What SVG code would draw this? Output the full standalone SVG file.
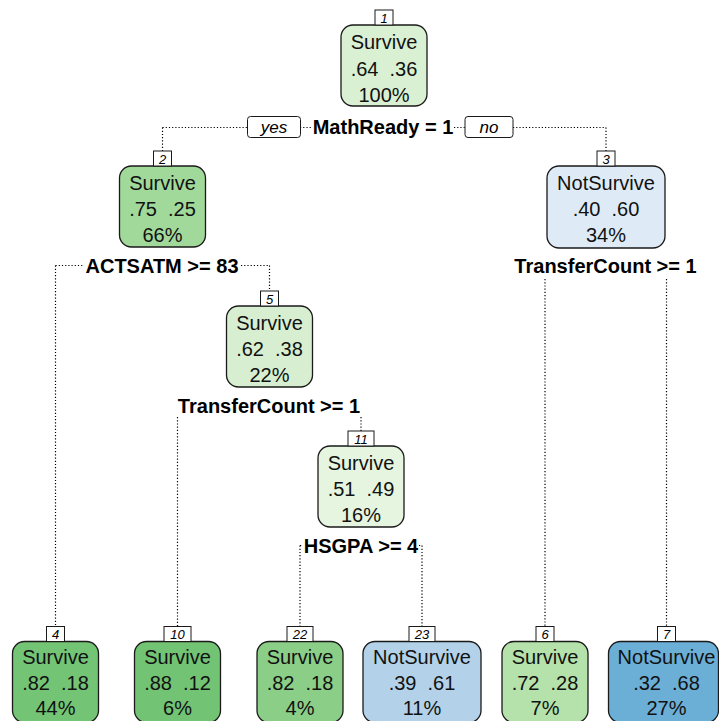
<svg xmlns="http://www.w3.org/2000/svg" width="719" height="721" viewBox="0 0 719 721">
  <style>
    .box { stroke: #1a1a1a; stroke-width: 1.3; }
    .num { fill: #ffffff; stroke: #1a1a1a; stroke-width: 1; }
    .numtxt { font-family: "Liberation Sans", Arial, sans-serif; font-size: 13px; font-style: italic; text-anchor: middle; fill: #000; }
    .txt { font-family: "Liberation Sans", Arial, sans-serif; font-size: 20px; text-anchor: middle; fill: #111; white-space: pre; }
    .split { font-family: "Liberation Sans", Arial, sans-serif; font-size: 20px; font-weight: bold; text-anchor: middle; fill: #000; }
    .yn { font-family: "Liberation Sans", Arial, sans-serif; font-size: 17px; font-style: italic; text-anchor: middle; fill: #000; }
    .dot { fill: none; stroke: #000; stroke-width: 1.2; stroke-dasharray: 1.2 2; }
  </style>
  <rect width="719" height="721" fill="#ffffff"/>

  <!-- dotted connectors -->
  <g id="connectors">
    <path class="dot" d="M162.5 127.5 H247 M300 127.5 H312 M454 127.5 H465 M513 127.5 H606 M162.5 127.5 V151 M606 127.5 V151"/>
    <path class="dot" d="M55.5 265.5 H83 M241 265.5 H269.5 M55.5 265.5 V626.5 M269.5 265.5 V291"/>
    <path class="dot" d="M177.5 417 V626.5 M361 417 V431"/>
    <path class="dot" d="M300 545.5 H302 M419 545.5 H422 M300 545.5 V626.5 M422 545.5 V626.5"/>
    <path class="dot" d="M545 279 V626.5 M666.5 279 V626.5"/>
  </g>

  <!-- yes / no tags -->
  <g id="yes">
    <rect class="num" x="247.5" y="116.5" width="53" height="21" rx="3"/>
    <text class="yn" x="274" y="132.5">yes</text>
  </g>
  <g id="no">
    <rect class="num" x="465" y="116.5" width="48" height="21" rx="3"/>
    <text class="yn" x="489" y="132.5">no</text>
  </g>

  <!-- split conditions -->
  <text class="split" x="383" y="134">MathReady = 1</text>
  <text class="split" x="162" y="272.5">ACTSATM &gt;= 83</text>
  <text class="split" x="605.5" y="272.5">TransferCount &gt;= 1</text>
  <text class="split" x="269" y="412.5">TransferCount &gt;= 1</text>
  <text class="split" x="361" y="552.5">HSGPA &gt;= 4</text>

  <!-- node 1 -->
  <g id="node1">
    <rect class="box" x="341" y="25" width="86" height="81" rx="12" fill="#D9F0D3"/>
    <rect class="num" x="375" y="10" width="18" height="15"/>
    <text class="numtxt" x="384" y="22.5">1</text>
    <text class="txt" x="384" y="49">Survive</text>
    <text class="txt" x="384" y="75.5">.64  .36</text>
    <text class="txt" x="384" y="101.5">100%</text>
  </g>

  <!-- node 2 -->
  <g id="node2">
    <rect class="box" x="119.5" y="166" width="86" height="81" rx="12" fill="#A1D99B"/>
    <rect class="num" x="153.5" y="151" width="18" height="15"/>
    <text class="numtxt" x="162.5" y="163.5">2</text>
    <text class="txt" x="162.5" y="189.5">Survive</text>
    <text class="txt" x="162.5" y="215.5">.75  .25</text>
    <text class="txt" x="162.5" y="241.5">66%</text>
  </g>

  <!-- node 3 -->
  <g id="node3">
    <rect class="box" x="547" y="166" width="118" height="82" rx="12" fill="#DEEBF7"/>
    <rect class="num" x="597" y="151" width="18" height="15"/>
    <text class="numtxt" x="606" y="163.5">3</text>
    <text class="txt" x="606" y="189.5">NotSurvive</text>
    <text class="txt" x="606" y="215.5">.40  .60</text>
    <text class="txt" x="606" y="241.5">34%</text>
  </g>

  <!-- node 5 -->
  <g id="node5">
    <rect class="box" x="226.5" y="306" width="86" height="81" rx="12" fill="#D7EFD0"/>
    <rect class="num" x="260.5" y="291" width="18" height="15"/>
    <text class="numtxt" x="269.5" y="303.5">5</text>
    <text class="txt" x="269.5" y="329.5">Survive</text>
    <text class="txt" x="269.5" y="355.5">.62  .38</text>
    <text class="txt" x="269.5" y="381.5">22%</text>
  </g>

  <!-- node 11 -->
  <g id="node11">
    <rect class="box" x="318" y="446" width="86" height="81" rx="12" fill="#E5F5E0"/>
    <rect class="num" x="348" y="431" width="26" height="15"/>
    <text class="numtxt" x="361" y="443.5">11</text>
    <text class="txt" x="361" y="469.5">Survive</text>
    <text class="txt" x="361" y="495.5">.51  .49</text>
    <text class="txt" x="361" y="521.5">16%</text>
  </g>

  <!-- leaf 4 -->
  <g id="node4">
    <rect class="box" x="12.5" y="641.5" width="86" height="81" rx="12" fill="#74C476"/>
    <rect class="num" x="46.5" y="626.5" width="18" height="15"/>
    <text class="numtxt" x="55.5" y="639">4</text>
    <text class="txt" x="55.5" y="664">Survive</text>
    <text class="txt" x="55.5" y="689.5">.82  .18</text>
    <text class="txt" x="55.5" y="715">44%</text>
  </g>

  <!-- leaf 10 -->
  <g id="node10">
    <rect class="box" x="134.5" y="641.5" width="86" height="81" rx="12" fill="#72C373"/>
    <rect class="num" x="164" y="626.5" width="27" height="15"/>
    <text class="numtxt" x="177.5" y="639">10</text>
    <text class="txt" x="177.5" y="664">Survive</text>
    <text class="txt" x="177.5" y="689.5">.88  .12</text>
    <text class="txt" x="177.5" y="715">6%</text>
  </g>

  <!-- leaf 22 -->
  <g id="node22">
    <rect class="box" x="257" y="641.5" width="86" height="81" rx="12" fill="#8BCE87"/>
    <rect class="num" x="287" y="626.5" width="26" height="15"/>
    <text class="numtxt" x="300" y="639">22</text>
    <text class="txt" x="300" y="664">Survive</text>
    <text class="txt" x="300" y="689.5">.82  .18</text>
    <text class="txt" x="300" y="715">4%</text>
  </g>

  <!-- leaf 23 -->
  <g id="node23">
    <rect class="box" x="363" y="641.5" width="118" height="81" rx="12" fill="#B3D2E9"/>
    <rect class="num" x="409" y="626.5" width="26" height="15"/>
    <text class="numtxt" x="422" y="639">23</text>
    <text class="txt" x="422" y="664">NotSurvive</text>
    <text class="txt" x="422" y="689.5">.39  .61</text>
    <text class="txt" x="422" y="715">11%</text>
  </g>

  <!-- leaf 6 -->
  <g id="node6">
    <rect class="box" x="502" y="641.5" width="86" height="81" rx="12" fill="#B5E1AA"/>
    <rect class="num" x="536" y="626.5" width="18" height="15"/>
    <text class="numtxt" x="545" y="639">6</text>
    <text class="txt" x="545" y="664">Survive</text>
    <text class="txt" x="545" y="689.5">.72  .28</text>
    <text class="txt" x="545" y="715">7%</text>
  </g>

  <!-- leaf 7 -->
  <g id="node7">
    <rect class="box" x="608.5" y="641.5" width="110" height="81" rx="12" fill="#6BAED6"/>
    <rect class="num" x="657.5" y="626.5" width="18" height="15"/>
    <text class="numtxt" x="666.5" y="639">7</text>
    <text class="txt" x="666.5" y="664">NotSurvive</text>
    <text class="txt" x="666.5" y="689.5">.32  .68</text>
    <text class="txt" x="666.5" y="715">27%</text>
  </g>
</svg>
